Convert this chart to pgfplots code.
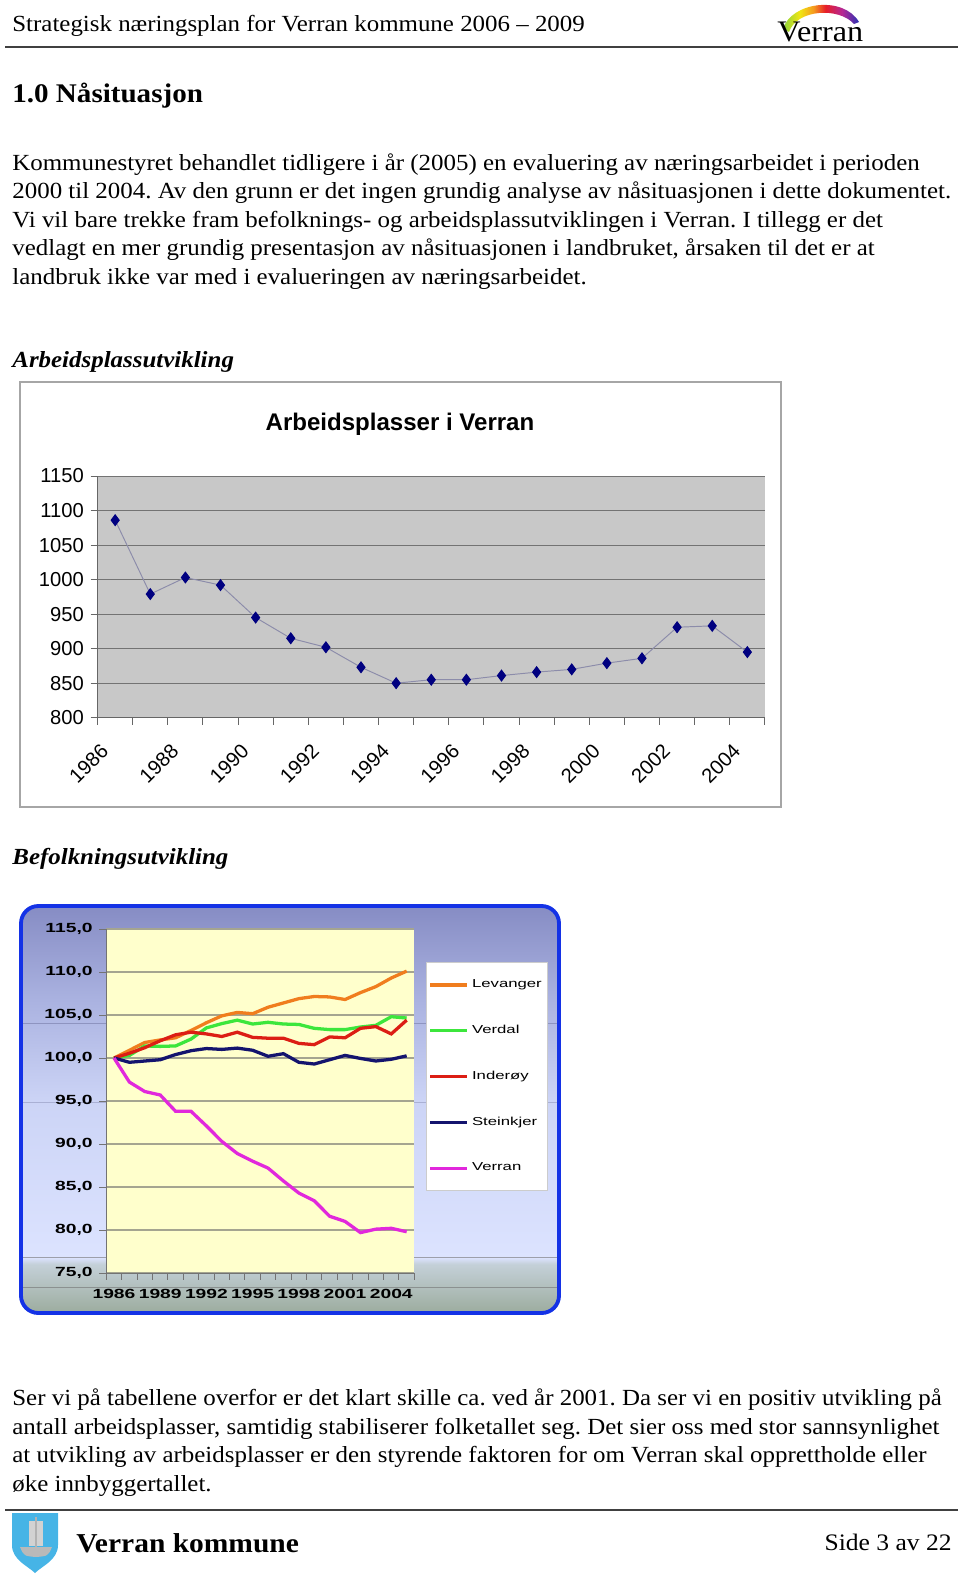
\documentclass[border=0pt]{standalone}
\usepackage{fontspec}
\setmainfont{Liberation Serif}[FakeStretch=1.08]
\newfontfamily\arial{Liberation Sans}
\newfontfamily\xl[FakeStretch=1.45]{Liberation Sans}
\usepackage{pgfplots}
\usepackage{pgfplotstable}
\pgfplotsset{compat=1.18}
\definecolor{plotgray}{HTML}{C8C8C8}
\definecolor{navymark}{HTML}{000080}
\definecolor{linegray}{HTML}{8C8CAA}
\definecolor{plotyellow}{HTML}{FFFFCC}
\definecolor{gridolive}{HTML}{A5A590}
\definecolor{levcol}{HTML}{F07D1E}
\definecolor{vercol}{HTML}{3CE63C}
\definecolor{indcol}{HTML}{DC1E14}
\definecolor{stecol}{HTML}{14146E}
\definecolor{vrrcol}{HTML}{E128DC}
\definecolor{boxblue}{HTML}{1432E6}
\definecolor{bgtop}{HTML}{868CC4}
\definecolor{bgup}{HTML}{AAB2E0}
\definecolor{bgmid}{HTML}{CCD4F6}
\definecolor{bglight}{HTML}{DCE3FF}
\definecolor{bgband}{HTML}{C4D0D8}
\definecolor{bgbot}{HTML}{9CAC9E}
\definecolor{shieldblue}{HTML}{46B4E6}
\definecolor{rbA}{HTML}{8CD23C}
\definecolor{rbB}{HTML}{F0E614}
\definecolor{rbC}{HTML}{F59B1E}
\definecolor{rbD}{HTML}{E61E28}
\definecolor{rbE}{HTML}{B42896}
\definecolor{rbF}{HTML}{2832B4}
\pgfdeclareverticalshading{chartbg}{100bp}{color(0bp)=(bgbot); color(25bp)=(bgbot); color(31bp)=(bgband); color(31.8bp)=(bglight); color(51bp)=(bgmid); color(63.5bp)=(bgup); color(75bp)=(bgtop); color(100bp)=(bgtop)}
\pgfdeclarehorizontalshading{rainbow}{100bp}{color(0bp)=(rbA); color(25bp)=(rbA); color(36bp)=(rbB); color(45bp)=(rbC); color(53bp)=(rbD); color(64bp)=(rbE); color(75bp)=(rbF); color(100bp)=(rbF)}

\pgfplotstableread{
year jobs
1986 1086
1987 979
1988 1003
1989 992
1990 945
1991 915
1992 902
1993 873
1994 850
1995 855
1996 855
1997 861
1998 866
1999 870
2000 879
2001 886
2002 931
2003 933
2004 895
}\jobs

\pgfplotstableread{
year Lev Ver Ind Ste Vrr
1986 100.0 100.0 100.0 100.0 100.0
1987 100.9 100.3 100.55 99.5 97.2
1988 101.8 101.4 101.2 99.65 96.1
1989 102.1 101.35 102.0 99.8 95.7
1990 102.35 101.4 102.7 100.4 93.8
1991 103.2 102.2 103.0 100.85 93.8
1992 104.1 103.5 102.8 101.1 92.1
1993 104.9 104.0 102.5 101.0 90.3
1994 105.3 104.4 103.0 101.15 88.9
1995 105.15 103.95 102.4 100.9 88.0
1996 105.9 104.15 102.3 100.2 87.2
1997 106.4 103.95 102.3 100.5 85.7
1998 106.9 103.9 101.7 99.5 84.3
1999 107.15 103.45 101.55 99.3 83.4
2000 107.1 103.3 102.45 99.8 81.6
2001 106.8 103.3 102.35 100.3 81.0
2002 107.6 103.6 103.45 99.95 79.7
2003 108.3 103.8 103.65 99.65 80.1
2004 109.3 104.8 102.8 99.85 80.2
2005 110.1 104.65 104.4 100.25 79.8
}\pop

\begin{document}
\frenchspacing
\begin{tikzpicture}[x=0.52pt,y=-0.52pt]
\path[use as bounding box] (0,0) rectangle (960,1578);

% ---------- header ----------
\node[anchor=base west, inner sep=0, font=\fontsize{12}{14}\selectfont] at (12,32) {Strategisk næringsplan for Verran kommune 2006 – 2009};
\draw[line width=1pt, black!75] (5,47) -- (958,47);
\shade[shading=rainbow] (783,29) .. controls (791,2) and (843,-5) .. (859,22) -- (854,24) .. controls (839,7) and (797,9) .. (789,32) -- cycle;
\node[anchor=base west, inner sep=0, font=\fontsize{15.5}{16}\selectfont] at (777,42) {Verran};

\node[anchor=base west, inner sep=0, font=\bfseries\fontsize{14}{17}\selectfont] at (12,103) {1.0 Nåsituasjon};

\begin{scope}[every node/.style={anchor=base west, inner sep=0, font=\fontsize{12}{14}\selectfont}]
\node at (12,170) {Kommunestyret behandlet tidligere i år (2005) en evaluering av næringsarbeidet i perioden};
\node at (12,198.6) {2000 til 2004. Av den grunn er det ingen grundig analyse av nåsituasjonen i dette dokumentet.};
\node at (12,227.2) {Vi vil bare trekke fram befolknings- og arbeidsplassutviklingen i Verran. I tillegg er det};
\node at (12,255.8) {vedlagt en mer grundig presentasjon av nåsituasjonen i landbruket, årsaken til det er at};
\node at (12,284.4) {landbruk ikke var med i evalueringen av næringsarbeidet.};
\node at (12,1405.5) {Ser vi på tabellene overfor er det klart skille ca. ved år 2001. Da ser vi en positiv utvikling på};
\node at (12,1434) {antall arbeidsplasser, samtidig stabiliserer folketallet seg. Det sier oss med stor sannsynlighet};
\node at (12,1462.5) {at utvikling av arbeidsplasser er den styrende faktoren for om Verran skal opprettholde eller};
\node at (12,1491) {øke innbyggertallet.};
\end{scope}

\node[anchor=base west, inner sep=0, font=\bfseries\itshape\fontsize{12}{14}\selectfont] at (12,367) {Arbeidsplassutvikling};
\node[anchor=base west, inner sep=0, font=\bfseries\itshape\fontsize{12}{14}\selectfont] at (12,864) {Befolkningsutvikling};

% ---------- chart 1 ----------
\draw[draw=black!35, fill=white, line width=0.6pt] (20,382) rectangle (781,807);
\node[anchor=base, inner sep=0, font=\arial\bfseries\fontsize{12.5}{14}\selectfont] at (400,430) {Arbeidsplasser i Verran};
\coordinate (c1) at (97.6,717.7);
\begin{axis}[
  at={(c1)}, anchor=south west, scale only axis,
  width=347pt, height=125.7pt,
  xmin=1985.5, xmax=2004.5, ymin=800, ymax=1150,
  axis x line*=bottom, axis y line*=left,
  axis background/.style={fill=plotgray},
  axis line style={draw=black!60, line width=0.5pt},
  ytick={800,850,...,1150},
  ymajorgrids, major grid style={draw=black!55, line width=0.5pt},
  xtick={1985.5,1986.5,...,2004.5}, xticklabels={},
  tick align=outside, major tick length=3.6pt,
  tick style={draw=black!60, line width=0.5pt},
  extra x ticks={1986,1988,...,2004},
  extra x tick labels={1986,1988,1990,1992,1994,1996,1998,2000,2002,2004},
  extra x tick style={major tick length=0pt, xticklabel style={xshift=-3pt, yshift=-13pt, rotate=45, anchor=east}},
  tick label style={font=\arial\fontsize{10.5}{12}\selectfont},
  /pgf/number format/1000 sep={}, /pgf/number format/assume math mode=true,
  clip=false,
]
\addplot[color=linegray, line width=0.5pt, mark=diamond*, mark size=2.8pt, mark options={fill=navymark, draw=navymark}] table[x=year,y=jobs] {\jobs};
\end{axis}

% ---------- chart 2 ----------
\shade[shading=chartbg, rounded corners=9pt] (21,906) rectangle (559,1313);
\begin{scope}
\clip[rounded corners=9pt] (21,906) rectangle (559,1313);
\draw[draw=bgtop!80!black, opacity=0.5, line width=0.5pt] (21,1023) -- (559,1023);
\draw[draw=bgup!80!black, opacity=0.5, line width=0.5pt] (21,1102) -- (559,1102);
\draw[draw=black!55, opacity=0.6, line width=0.5pt] (21,1257) -- (559,1257);
\draw[draw=black!55, opacity=0.6, line width=0.5pt] (21,1287) -- (559,1287);
\end{scope}
\draw[draw=boxblue, line width=2pt, rounded corners=9pt] (21,906) rectangle (559,1313);
\coordinate (c2) at (106.3,1273);
\begin{axis}[
  at={(c2)}, anchor=south west, scale only axis,
  width=160.2pt, height=178.9pt,
  xmin=1985.5, xmax=2005.5, ymin=75, ymax=115,
  axis x line*=bottom, axis y line*=left,
  axis background/.style={fill=plotyellow},
  axis line style={draw=black!55, line width=0.5pt},
  ytick={75,80,...,115},
  yticklabels={{75,0},{80,0},{85,0},{90,0},{95,0},{100,0},{105,0},{110,0},{115,0}},
  ymajorgrids, major grid style={draw=gridolive, line width=0.6pt},
  xtick={1985.5,1986.5,...,2005.5}, xticklabels={},
  tick align=outside, major tick length=3.6pt,
  tick style={draw=black!55, line width=0.5pt},
  extra x ticks={1986,1989,...,2004},
  extra x tick labels={1986,1989,1992,1995,1998,2001,2004},
  extra x tick style={major tick length=0pt, xticklabel style={yshift=-5pt}},
  tick label style={font=\xl\bfseries\fontsize{6.9}{8}\selectfont},
  legend style={at={(1.038,0.904)}, anchor=north west, draw=black!20, fill=white,
    inner xsep=1pt, inner ysep=7pt, row sep=14pt,
    font=\xl\fontsize{6}{7}\selectfont, cells={anchor=west}},
  legend image code/.code={\draw[#1, line width=1.7pt] (0pt,0pt) -- (19pt,0pt);},
  clip=false,
]
\addplot[color=levcol, line width=1.7pt] table[x=year,y=Lev] {\pop};
\addlegendentry{Levanger}
\addplot[color=vercol, line width=1.7pt] table[x=year,y=Ver] {\pop};
\addlegendentry{Verdal}
\addplot[color=indcol, line width=1.7pt] table[x=year,y=Ind] {\pop};
\addlegendentry{Inderøy}
\addplot[color=stecol, line width=1.7pt] table[x=year,y=Ste] {\pop};
\addlegendentry{Steinkjer}
\addplot[color=vrrcol, line width=1.7pt] table[x=year,y=Vrr] {\pop};
\addlegendentry{Verran}
\end{axis}

% ---------- footer ----------
\draw[line width=1pt, black!75] (5,1510) -- (958,1510);
\fill[shieldblue] (12,1513) -- (58,1513) -- (58,1545) .. controls (58,1560) and (42,1566) .. (35,1573) .. controls (28,1566) and (12,1560) .. (12,1545) -- cycle;
\fill[gray!35] (29,1521) -- (43,1521) -- (43,1546) -- (29,1546) -- cycle;
\draw[gray!60, line width=0.8pt] (36,1517) -- (36,1549);
\fill[gray!55] (20,1547) -- (52,1547) .. controls (48,1556) .. (36,1557) .. controls (24,1556) .. (20,1547) -- cycle;
\node[anchor=base west, inner sep=0, font=\bfseries\fontsize{14.2}{16}\selectfont] at (76,1552) {Verran kommune};
\node[anchor=base east, inner sep=0, font=\fontsize{12.3}{14}\selectfont] at (952,1550) {Side 3 av 22};
\end{tikzpicture}
\end{document}
